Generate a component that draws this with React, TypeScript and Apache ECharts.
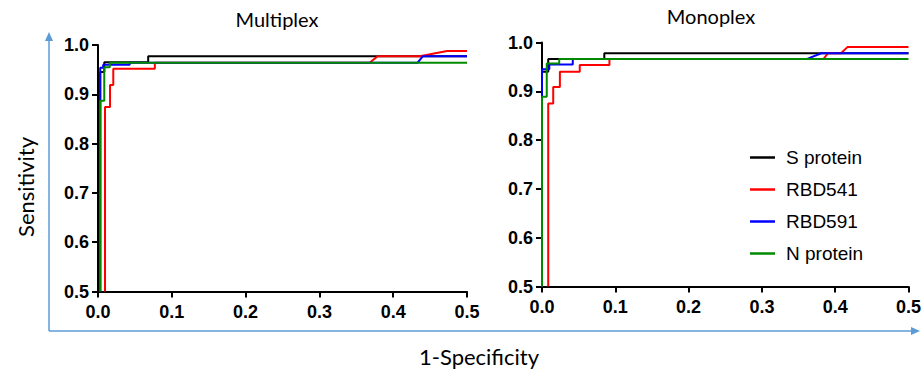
import React, { useEffect, useRef } from "react";
import * as echarts from "echarts";

const seriesNames = ["S protein", "RBD541", "RBD591", "N protein"];
const seriesColors = ["#000000", "#ff0000", "#0000ff", "#008a00"];
const panelTitles = ["Multiplex", "Monoplex"];
const xTickLabels = ["0.0", "0.1", "0.2", "0.3", "0.4", "0.5"];
const yTickLabels = ["0.5", "0.6", "0.7", "0.8", "0.9", "1.0"];

// Multiplex ROC points [1-specificity, sensitivity]
const multiS = [[0.003, 0.5], [0.003, 0.945], [0.0085, 0.945], [0.0085, 0.965], [0.068, 0.965], [0.068, 0.977], [0.5, 0.977]];
const multiR541 = [[0.0095, 0.5], [0.0095, 0.874], [0.0163, 0.874], [0.0163, 0.919], [0.0207, 0.919], [0.0207, 0.952], [0.077, 0.952], [0.077, 0.964], [0.368, 0.964], [0.379, 0.977], [0.436, 0.977], [0.473, 0.988], [0.5, 0.988]];
const multiR591 = [[0.003, 0.5], [0.003, 0.954], [0.007, 0.954], [0.007, 0.96], [0.043, 0.96], [0.043, 0.964], [0.433, 0.964], [0.44, 0.977], [0.5, 0.977]];
const multiN = [[0.003, 0.5], [0.003, 0.887], [0.0085, 0.887], [0.0085, 0.955], [0.016, 0.955], [0.016, 0.964], [0.5, 0.964]];

// Monoplex ROC points
const monoS = [[0, 0.5], [0, 0.94], [0.0085, 0.94], [0.0085, 0.966], [0.085, 0.966], [0.085, 0.978], [0.5, 0.978]];
const monoR541 = [[0.0085, 0.5], [0.0085, 0.875], [0.0153, 0.875], [0.0153, 0.909], [0.0244, 0.909], [0.0244, 0.94], [0.0515, 0.94], [0.0515, 0.954], [0.092, 0.954], [0.092, 0.966], [0.384, 0.966], [0.39, 0.978], [0.408, 0.978], [0.417, 0.991], [0.5, 0.991]];
const monoR591 = [[0, 0.5], [0, 0.945], [0.01, 0.945], [0.01, 0.955], [0.042, 0.955], [0.042, 0.966], [0.361, 0.966], [0.381, 0.978], [0.5, 0.978]];
const monoN = [[0, 0.5], [0, 0.889], [0.0065, 0.889], [0.0065, 0.957], [0.0235, 0.957], [0.0235, 0.966], [0.5, 0.966]];

const panels = [
  [multiS, multiR541, multiR591, multiN],
  [monoS, monoR541, monoR591, monoN],
];

const grids = [
  { left: 98, top: 45, width: 369, height: 246.5 },
  { left: 542, top: 42.5, width: 369, height: 244 },
];

export default function App() {
  const ref = useRef<HTMLDivElement>(null);
  useEffect(() => {
    if (!ref.current) return;
    const chart = echarts.init(ref.current, undefined, { renderer: "svg" });
    const tickFont = { fontFamily: "Liberation Sans, Arial, sans-serif", fontWeight: "bold" as const, fontSize: 18, color: "#000" };
    const axisLine = { show: true, lineStyle: { color: "#000", width: 2 } };
    const axisTick = { show: true, length: 6, lineStyle: { color: "#000", width: 2 } };

    const xAxis = grids.map((_, i) => ({
      type: "value",
      gridIndex: i,
      min: 0,
      max: 0.5,
      interval: 0.1,
      axisLine,
      axisTick,
      splitLine: { show: false },
      axisLabel: { ...tickFont, margin: 11, formatter: (v: number) => xTickLabels[Math.round(v * 10)] },
    }));
    const yAxis = grids.map((_, i) => ({
      type: "value",
      gridIndex: i,
      min: 0.5,
      max: 1.0,
      interval: 0.1,
      axisLine,
      axisTick,
      splitLine: { show: false },
      axisLabel: { ...tickFont, margin: 9, formatter: (v: number) => yTickLabels[Math.round(v * 10) - 5] },
    }));

    const series: any[] = [];
    panels.forEach((p, pi) => {
      p.forEach((d, si) => {
        series.push({
          type: "line",
          name: seriesNames[si],
          xAxisIndex: pi,
          yAxisIndex: pi,
          data: d,
          showSymbol: false,
          symbol: "none",
          lineStyle: { color: seriesColors[si], width: 2 },
          itemStyle: { color: seriesColors[si] },
          clip: false,
          z: 3 + si,
        });
      });
    });

    const blue = "#5b9bd5";
    chart.setOption({
      animation: false,
      backgroundColor: "#fff",
      title: [
        { text: panelTitles[0], left: 272, top: 4, textAlign: "center", textStyle: { fontFamily: "Lato, sans-serif", fontWeight: "normal", fontSize: 20, color: "#000" } },
        { text: panelTitles[1], left: 706, top: 1, textAlign: "center", textStyle: { fontFamily: "Lato, sans-serif", fontWeight: "normal", fontSize: 20, color: "#000" } },
      ],
      grid: grids.map((g) => ({ ...g, containLabel: false })),
      xAxis,
      yAxis,
      legend: {
        data: seriesNames,
        orient: "vertical",
        left: 745,
        top: 142,
        icon: "rect",
        itemWidth: 25,
        itemHeight: 2.5,
        itemGap: 11,
        textStyle: { fontFamily: "Liberation Sans, Arial, sans-serif", fontSize: 19, lineHeight: 21, color: "#000", padding: [0, 0, 0, 6] },
      },
      graphic: [
        { type: "line", shape: { x1: 49, y1: 331, x2: 49, y2: 40 }, style: { stroke: blue, lineWidth: 1.5 } },
        { type: "polygon", shape: { points: [[45, 41], [53, 41], [49, 32]] }, style: { fill: blue } },
        { type: "line", shape: { x1: 49, y1: 331, x2: 912, y2: 331 }, style: { stroke: blue, lineWidth: 1.5 } },
        { type: "polygon", shape: { points: [[911, 327], [911, 335], [920, 331]] }, style: { fill: blue } },
        { type: "text", x: 25, y: 187, rotation: Math.PI / 2, style: { text: "Sensitivity", fontFamily: "Lato, sans-serif", fontSize: 22, fill: "#000", textAlign: "center", textVerticalAlign: "middle" } },
        { type: "text", x: 479, y: 356, style: { text: "1-Specificity", fontFamily: "Lato, sans-serif", fontSize: 22, fill: "#000", textAlign: "center", textVerticalAlign: "middle" } },
      ],
      series,
    });
    return () => chart.dispose();
  }, []);
  return <div ref={ref} style={{ position: "fixed", left: 0, top: 0, width: 924, height: 379 }} />;
}
